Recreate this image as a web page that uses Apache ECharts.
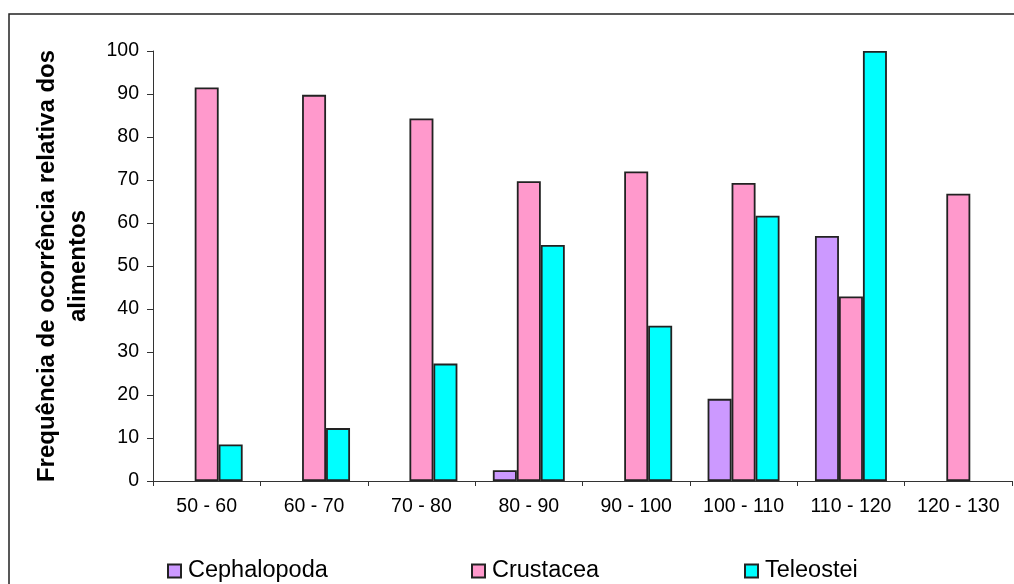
<!DOCTYPE html>
<html>
<head>
<meta charset="utf-8">
<script src="https://cdn.jsdelivr.net/npm/echarts@6/dist/echarts.min.js"></script>
<style>
html,body{margin:0;padding:0;background:#fff;}
#chart{width:1014px;height:584px;}
</style>
</head>
<body>
<div id="chart"></div>
<script>
var categories = ['50 - 60','60 - 70','70 - 80','80 - 90','90 - 100','100 - 110','110 - 120','120 - 130'];
var cephalopoda = [null, null, null, 2.5, null, 19.1, 57.0, null];
var crustacea = [91.5, 89.8, 84.3, 69.7, 72.0, 69.3, 42.9, 66.8];
var teleostei = [8.5, 12.3, 27.3, 54.9, 36.1, 61.7, 100, null];
var yTicks = {min: 0, max: 100, interval: 10};
var yTitle = 'Frequência de ocorrência relativa dos\nalimentos';

var font = '"Liberation Sans", Arial, sans-serif';
var chart = echarts.init(document.getElementById('chart'), null, {renderer: 'canvas'});
var border = {borderColor: '#222', borderWidth: 1.8};
function legendAt(name, left) {
  return {
    data: [name], left: left, top: 559, icon: 'rect', padding: 0,
    itemWidth: 13, itemHeight: 13, selectedMode: false,
    textStyle: {fontFamily: font, fontSize: 23.5, color: '#000', padding: [0,0,0,2]}
  };
}
chart.setOption({
  animation: false,
  backgroundColor: '#fff',
  grid: {left: 153, right: 2, top: 51, bottom: 103, containLabel: false},
  legend: [legendAt('Cephalopoda', 167), legendAt('Crustacea', 471), legendAt('Teleostei', 744)],
  graphic: [{
    type: 'rect', shape: {x: 9, y: 14, width: 1100, height: 700},
    style: {fill: 'none', stroke: '#222', lineWidth: 1.5}, silent: true
  }],
  xAxis: {
    type: 'category', data: categories,
    axisLine: {lineStyle: {color: '#333', width: 1}},
    axisTick: {show: true, length: 5, lineStyle: {color: '#333'}},
    axisLabel: {fontFamily: font, fontSize: 19.5, color: '#000', margin: 16, interval: 0}
  },
  yAxis: {
    type: 'value', min: yTicks.min, max: yTicks.max, interval: yTicks.interval,
    name: yTitle, nameLocation: 'middle', nameRotate: 90, nameGap: 59,
    nameTextStyle: {fontFamily: font, fontSize: 24, fontWeight: 'bold', color: '#000', lineHeight: 31, align: 'center'},
    axisLine: {show: true, lineStyle: {color: '#333', width: 1}},
    axisTick: {show: true, length: 6, lineStyle: {color: '#333'}},
    splitLine: {show: false},
    axisLabel: {fontFamily: font, fontSize: 19.5, color: '#000', margin: 14}
  },
  series: [
    {name: 'Cephalopoda', type: 'bar', data: cephalopoda, barGap: '0%', barCategoryGap: '33%',
     itemStyle: Object.assign({color: '#CC99FF'}, border)},
    {name: 'Crustacea', type: 'bar', data: crustacea, barGap: '0%', barCategoryGap: '33%',
     itemStyle: Object.assign({color: '#FF99CC'}, border)},
    {name: 'Teleostei', type: 'bar', data: teleostei, barGap: '0%', barCategoryGap: '33%',
     itemStyle: Object.assign({color: '#00FFFF'}, border)}
  ]
});
</script>
</body>
</html>
